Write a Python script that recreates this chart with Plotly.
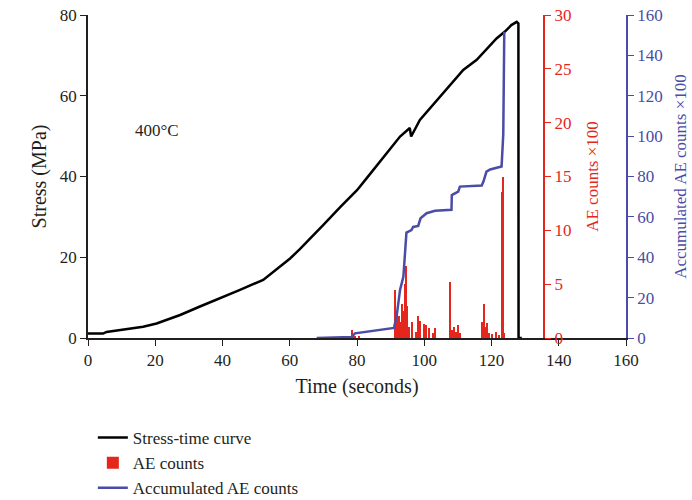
import plotly.graph_objects as go

# stress-time curve (seconds, MPa)
stress_t = [0, 4.5, 5.5, 12.5, 16.4, 20.4, 27.4, 33.3, 39.3, 45.2, 52.1, 54.6, 60.1, 63, 66, 70, 75,
            80, 82.9, 85.8, 88.8, 92.8, 95.7, 96.1, 98.7, 101.7, 104.7, 108, 111.6, 115.6, 118.5,
            121.5, 124, 125.9, 127.5, 128, 128.05, 129]
stress_v = [1.1, 1.1, 1.5, 2.4, 2.8, 3.6, 5.7, 7.8, 9.8, 11.9, 14.4, 16, 19.7, 22, 24.5, 28, 32.4,
            36.6, 39.6, 42.7, 45.7, 49.9, 52, 49.9, 54, 56.9, 59.8, 63, 66.4, 68.9, 71.6,
            74.2, 75.9, 77.5, 78.3, 77.9, 0, 0]

# AE counts (x100)
ae_t = [78.4, 78.9, 79.5, 80.5,
        91.3, 91.8, 92.3, 92.6, 93.0, 93.4, 93.8, 94.2, 94.6, 95.0, 95.4, 96.3, 97.5, 98.2, 98.7,
        99.8, 100.4, 101.5, 102.6, 103.3,
        107.8, 108.3, 108.8, 109.4, 110.0, 110.5,
        117.3, 117.7, 118.1, 118.6, 119.2, 120.2, 121.2, 122.2,
        123.0, 123.3, 123.6]
ae_v = [0.75, 0.4, 0.2, 0.15,
        4.5, 2.5, 1.2, 2.0, 1.5, 3.2, 2.5, 5.0, 6.7, 3.0, 1.0, 1.5, 0.6, 2.0, 1.6,
        1.3, 1.2, 0.9, 0.5, 0.9,
        5.2, 0.7, 1.0, 0.6, 1.2, 0.5,
        1.5, 3.2, 1.0, 1.4, 0.5, 0.4, 0.6, 0.3,
        13.6, 15.0, 0.5]

# accumulated AE counts (x100)
acc_t = [68, 78.4, 79.4, 91, 91.8, 92.8, 93.8, 94.5, 94.7, 96.2, 96.7, 98.2, 98.9, 100.7, 103.2,
         108.1, 108.2, 110.1, 110.6, 117.1, 117.6, 118.5, 119.6, 123.0, 123.5, 123.8]
acc_v = [0, 0.5, 2.3, 5, 11, 23.8, 30.4, 45, 52.2, 53.5, 55, 55.5, 59.3, 61.8, 63,
         63.5, 70.8, 72.5, 75, 75.5, 77.5, 82.4, 83.5, 85, 101, 151.7]

RED = "#e4261c"
BLUE = "#4b4ba8"
INK = "#231f20"
FONT = "Liberation Serif"

fig = go.Figure()
fig.add_trace(go.Scatter(x=stress_t, y=stress_v, mode="lines", name="Stress-time curve",
                         line=dict(color="black", width=2.5)))
fig.add_trace(go.Bar(x=ae_t, y=ae_v, width=0.3, name="AE counts", yaxis="y2",
                     marker=dict(color=RED, line=dict(width=0))))
fig.add_trace(go.Scatter(x=acc_t, y=acc_v, mode="lines", name="Accumulated AE counts", yaxis="y3",
                         line=dict(color=BLUE, width=2.5)))

axis_common = dict(showgrid=False, zeroline=False, showline=True, ticks="outside",
                   ticklen=6, automargin=False)

fig.update_layout(
    template="none",
    width=692, height=500,
    margin=dict(l=88, r=66, t=15, b=162),
    paper_bgcolor="white", plot_bgcolor="white",
    font=dict(family=FONT, size=17, color=INK),
    bargap=0,
    xaxis=dict(range=[0, 160], dtick=20, linecolor=INK, linewidth=1.5, tickcolor=INK,
               tickfont=dict(family=FONT, size=17, color=INK),
               title=dict(text="Time (seconds)", standoff=10), **axis_common),
    yaxis=dict(range=[0, 80], dtick=20, linecolor=INK, linewidth=1.5, tickcolor=INK,
               tickfont=dict(family=FONT, size=17, color=INK),
               title=dict(text="Stress (MPa)", standoff=8), **axis_common),
    yaxis2=dict(range=[0, 30], dtick=5, overlaying="y", side="right", anchor="free",
                position=0.8476, linecolor=RED, linewidth=2, tickcolor=RED,
                tickfont=dict(family=FONT, size=17, color=RED),
                title=dict(text="AE counts ×100", font=dict(family=FONT, size=17, color=RED), standoff=15),
                **axis_common),
    yaxis3=dict(range=[0, 160], dtick=20, overlaying="y", side="right", anchor="x",
                linecolor=BLUE, linewidth=1.5, tickcolor=BLUE,
                tickfont=dict(family=FONT, size=17, color=BLUE),
                title=dict(text="Accumulated AE counts ×100", font=dict(family=FONT, size=17, color=BLUE),
                           standoff=12),
                **axis_common),
    showlegend=True,
    legend=dict(x=0.009, y=0.16, xref="paper", yref="container", xanchor="left", yanchor="top",
                orientation="v", bgcolor="rgba(0,0,0,0)", font=dict(family=FONT, size=17, color=INK),
                traceorder="normal"),
    annotations=[dict(x=20.5, y=51.5, xref="x", yref="y", text="400°C", showarrow=False,
                      font=dict(family=FONT, size=17, color=INK))],
)

fig.write_html("out.html", config={"displayModeBar": False},
               post_script="document.body.style.margin='0';")
